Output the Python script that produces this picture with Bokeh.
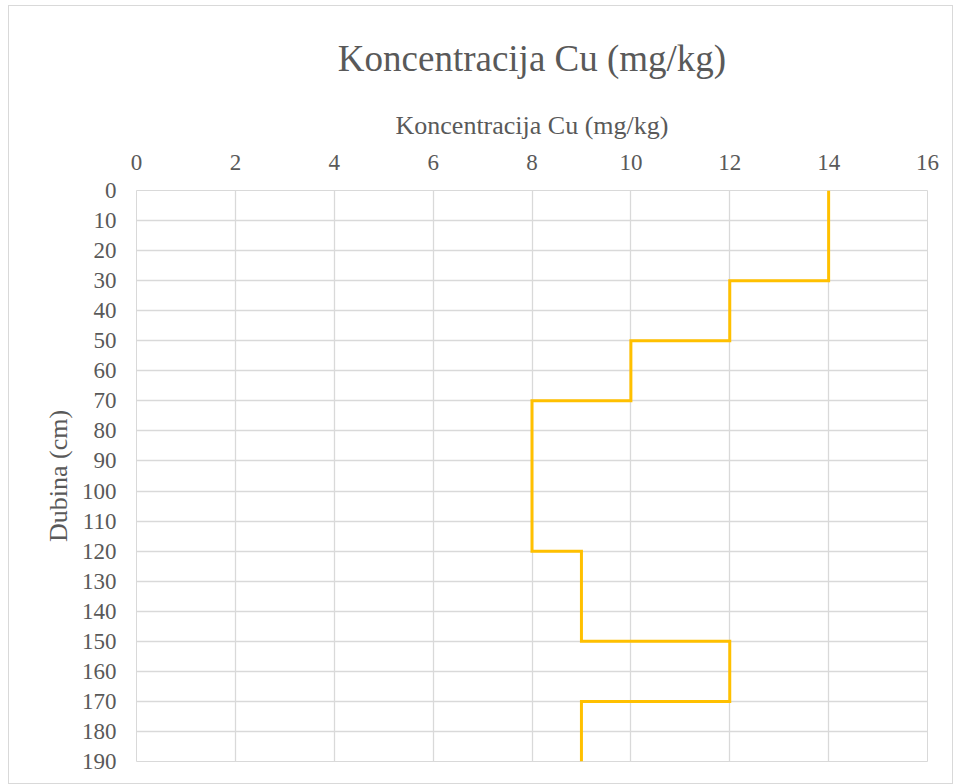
from bokeh.plotting import figure
from bokeh.models import Range1d, FixedTicker, LinearAxis, Grid
from bokeh.embed import file_html
from bokeh.resources import INLINE

# Data
depth_top = [0, 30, 50, 70, 120, 150, 170]
depth_bottom = [30, 50, 70, 120, 150, 170, 190]
cu_values = [14, 12, 10, 8, 9, 12, 9]
x_ticks = [0, 2, 4, 6, 8, 10, 12, 14, 16]
y_ticks = list(range(0, 200, 10))

title_text = "Koncentracija Cu (mg/kg)"
x_label = "Koncentracija Cu (mg/kg)"
y_label = "Dubina (cm)"

xs, ys = [], []
for t, b, v in zip(depth_top, depth_bottom, cu_values):
    xs += [v, v]
    ys += [t, b]

FONT = "Liberation Serif"
TXT = "#595959"
GRID = "#D9D9D9"

p = figure(width=945, height=779, output_backend="svg", toolbar_location=None,
           title=title_text,
           x_range=Range1d(0, 16), y_range=Range1d(190, 0),
           x_axis_location=None, y_axis_location=None,
           min_border_left=127, min_border_right=27, min_border_top=179,
           min_border_bottom=24)
p.styles = {"border": "1px solid #D9D9D9", "margin-left": "8px", "margin-top": "5px"}
p.background_fill_color = "white"
p.border_fill_color = "white"
p.outline_line_color = GRID
p.outline_line_width = 1

p.title.align = "center"
p.title.text_font = FONT
p.title.text_color = TXT
p.title.text_font_size = "37px"
p.title.text_font_style = "normal"
p.title.standoff = 58

xaxis = LinearAxis(ticker=FixedTicker(ticks=x_ticks), axis_label=x_label)
yaxis = LinearAxis(ticker=FixedTicker(ticks=y_ticks), axis_label=y_label)
for ax in (xaxis, yaxis):
    ax.axis_line_color = None
    ax.major_tick_line_color = None
    ax.minor_tick_line_color = None
    ax.major_label_text_font = FONT
    ax.major_label_text_color = TXT
    ax.major_label_text_font_size = "23px"
    ax.axis_label_text_font = FONT
    ax.axis_label_text_color = TXT
    ax.axis_label_text_font_size = "26px"
    ax.axis_label_text_font_style = "normal"
xaxis.major_label_standoff = 15
xaxis.axis_label_standoff = 12
yaxis.major_label_standoff = 14
yaxis.axis_label_standoff = 6
p.add_layout(xaxis, "above")
p.add_layout(yaxis, "left")

p.xgrid.visible = False
p.ygrid.visible = False
p.add_layout(Grid(dimension=0, ticker=xaxis.ticker, grid_line_color=GRID, grid_line_width=1.3))
p.add_layout(Grid(dimension=1, ticker=yaxis.ticker, grid_line_color=GRID, grid_line_width=1.3))

p.line(xs, ys, line_color="#FFC000", line_width=3, line_join="miter")

open("out.html", "w").write(file_html(p, INLINE))
